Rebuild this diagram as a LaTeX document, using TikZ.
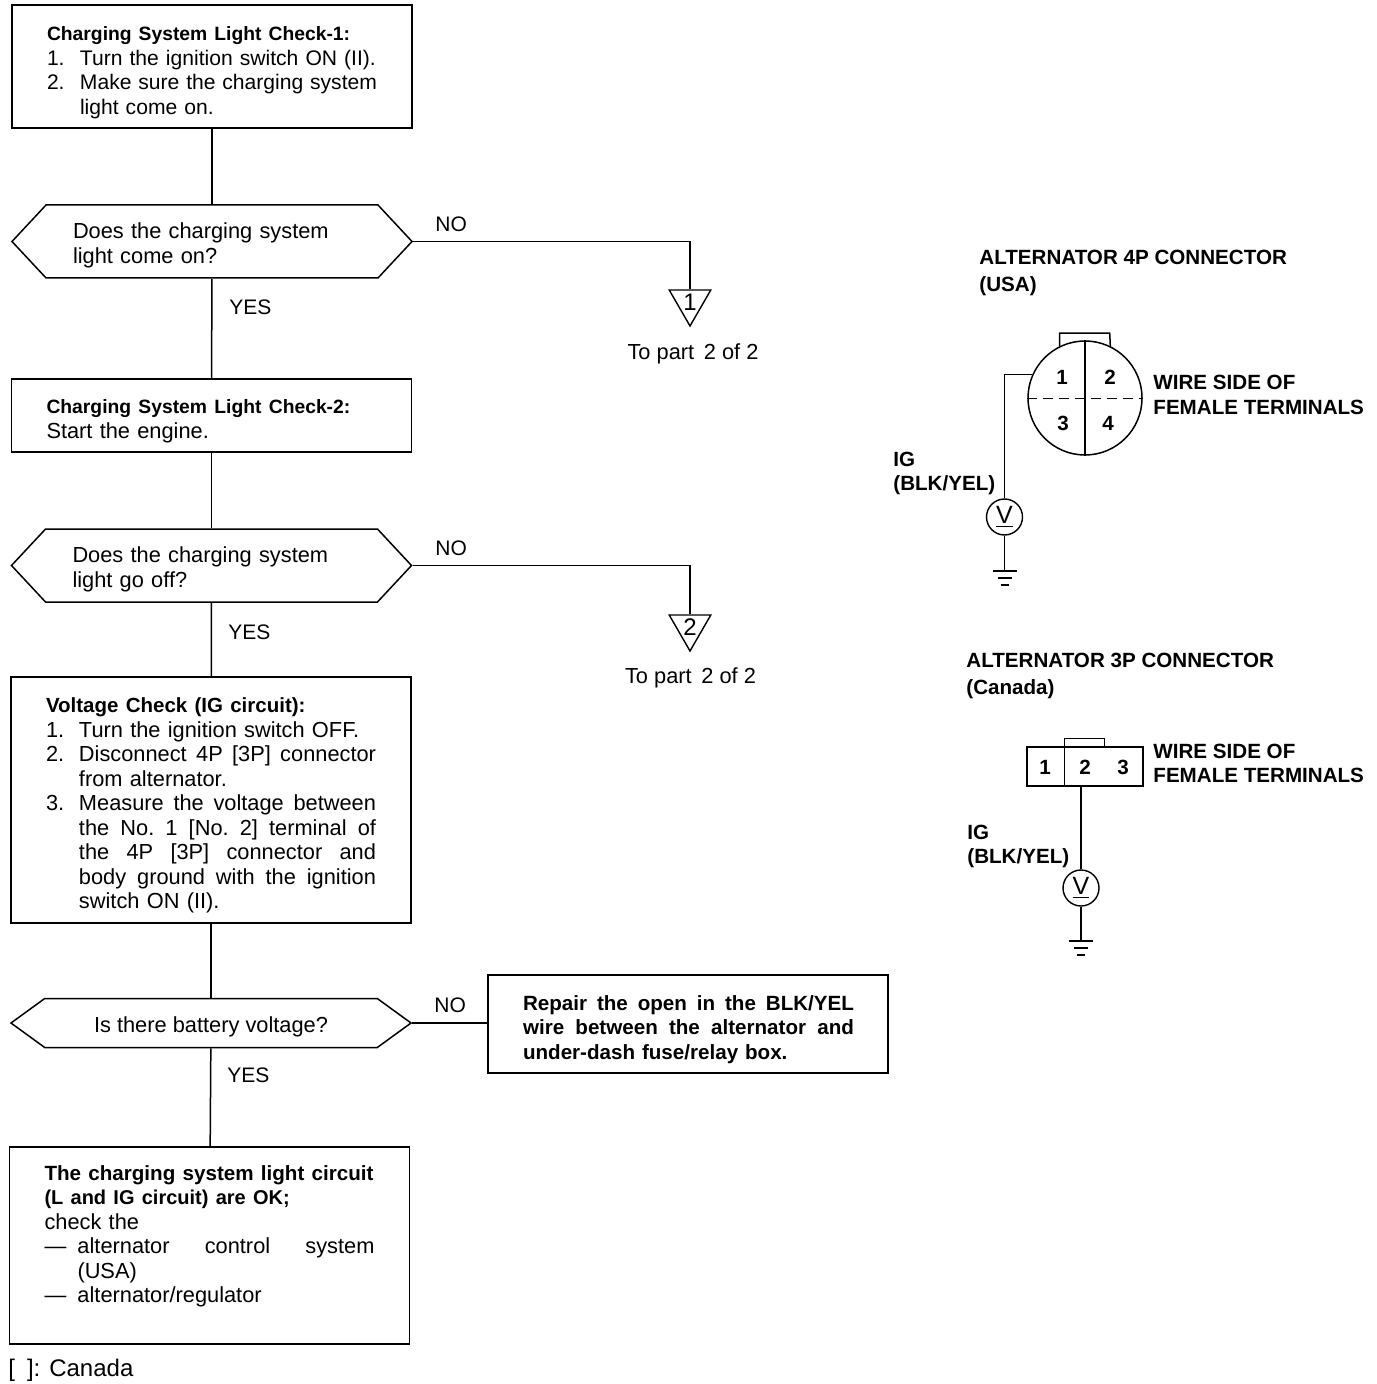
\documentclass[tikz,border=0pt]{standalone}
\usepackage{fontspec}
\setmainfont{Liberation Sans}
\usetikzlibrary{shapes.symbols,shapes.geometric}
\newcommand{\hdr}[2]{\mbox{\fontsize{#1}{12.25}\selectfont\bfseries #2}}
\newcommand{\jl}[2][148.5pt]{\makebox[#1][s]{\spaceskip=.26em plus 1fil\xspaceskip=\spaceskip\relax #2}}
\newcommand{\num}[2]{\makebox[16.5pt][l]{#1}#2}
\newcommand{\hang}[1]{\hspace*{16.5pt}#1}
\tikzset{
	textfont/.style={font=\fontsize{10.9}{12.25}\selectfont},
	boldfont/.style={font=\fontsize{10.3}{12.25}\selectfont\bfseries},
	stepbox/.style={draw, rectangle, line width=0.75pt, minimum width=200pt, inner xsep=17.5pt, inner ysep=0pt, text width=165pt, align=left, textfont, execute at begin node={\rule{0pt}{13pt}}},
	decision/.style={draw, signal, signal to=east and west, line width=0.75pt, minimum width=200pt, inner sep=0pt},
	question/.style={text width=139pt, inner sep=0pt, yshift=-2pt, textfont},
	answer/.style={anchor=west, inner sep=0pt, font=\fontsize{10.5}{12.25}\selectfont},
	marktri/.style={draw, regular polygon, regular polygon sides=3, shape border rotate=180, minimum size=24pt, inner sep=0pt, line width=0.7pt, font=\fontsize{12}{12.25}\selectfont},
	title/.style={anchor=west, align=left, inner sep=0pt, boldfont},
	voltmeter/.style={draw, circle, minimum size=18pt, inner sep=0pt, line width=0.7pt, font=\fontsize{12.5}{13}\selectfont},
	wire/.style={line width=0.75pt},
	gnd/.pic={
		\draw[wire] (-12,0) -- (12,0);
		\draw[wire] (-7,7) -- (7,7);
		\draw[wire] (-4,14) -- (4,14);
	},
}
\begin{document}
\begin{tikzpicture}[x=0.5pt, y=-0.5pt]
	\useasboundingbox (0,0) rectangle (1376,1384);

	\node[stepbox, minimum height=61.5pt, font=\fontsize{10.55}{12.25}\selectfont] (box1) at (212,66.5) {\hdr{9.65}{Charging System Light Check-1:}\\
		\num{1.}{Turn the ignition switch ON (II).}\\
		\num{2.}{\jl{Make sure the charging system}}\\
		\hang{light come on.}};
	\node[decision, minimum height=36.5pt, signal pointer angle=94] (dec1) at (212,241.5) {};
	\node[question] (q1) at (dec1) {Does the charging system\\light come on?};
	\node[stepbox, minimum height=36.5pt] (box2) at (211.5,415.5) {\hdr{9.65}{Charging System Light Check-2:}\\Start the engine.};
	\node[decision, minimum height=36.5pt, signal pointer angle=94] (dec2) at (211.5,565.5) {};
	\node[question] (q2) at (dec2) {Does the charging system\\light go off?};
	\node[stepbox, minimum height=123pt] (box3) at (211,800) {\hdr{10.25}{Voltage Check (IG circuit):}\\
		\num{1.}{Turn the ignition switch OFF.}\\
		\num{2.}{\jl{Disconnect 4P [3P] connector}}\\
		\hang{from alternator.}\\
		\num{3.}{\jl{Measure the voltage between}}\\
		\hang{\jl{the No. 1 [No. 2] terminal of}}\\
		\hang{\jl{the 4P [3P] connector and}}\\
		\hang{\jl{body ground with the ignition}}\\
		\hang{switch ON (II).}};
	\node[decision, minimum height=24.5pt, signal pointer angle=72] (dec3) at (211,1023) {};
	\node[inner sep=0pt, yshift=-2pt, textfont] (q3) at (dec3) {Is there battery voltage?};
	\node[stepbox, minimum height=49pt, font=\fontsize{10.3}{12.25}\selectfont\bfseries] (repair) at (688,1024) {\jl[165.5pt]{Repair the open in the BLK/YEL}\\\jl[165.5pt]{wire between the alternator and}\\under-dash fuse/relay box.};
	\node[stepbox, minimum height=98.5pt] (box4) at (209.5,1245.5) {\hdr{10.3}{The charging system light circuit}\\\hdr{10}{(L and IG circuit) are OK;}\\check the\\
		\num{—}{\jl{alternator control system}}\\
		\hang{(USA)}\\
		\num{—}{alternator/regulator}\\[5pt]\mbox{}};

	\node[marktri] (tri1) at (690,302) {\raisebox{-1pt}{1}};
	\node[marktri] (tri2) at (690,627) {\raisebox{-1pt}{2}};
	\node[textfont, inner sep=0pt] (part1) at (693,354) {To part\, 2 of 2};
	\node[textfont, inner sep=0pt] (part2) at (690.5,678) {To part\, 2 of 2};

	\draw[wire] (box1) -- (dec1);
	\draw[wire] (dec1) -- (box2);
	\draw[wire] (box2) -- (dec2);
	\draw[wire] (dec2) -- (box3);
	\draw[wire] (box3) -- (dec3);
	\draw[wire] (dec3) -- (box4);
	\draw[wire] (dec1.east) -| (tri1.north);
	\draw[wire] (dec2.east) -| (tri2.north);
	\draw[wire] (dec3.east) -- (repair.west |- dec3.east);

	\node[answer] (no1) at (435,224) {NO};
	\node[answer] (yes1) at (229,307) {YES};
	\node[answer] (no2) at (435,548) {NO};
	\node[answer] (yes2) at (228,632) {YES};
	\node[answer] (no3) at (434,1005) {NO};
	\node[answer] (yes3) at (227,1075) {YES};
	\node[anchor=west, inner sep=0pt, font=\fontsize{12}{13}\selectfont] (note) at (8,1370) {[\enspace]: Canada};

	\node[title] (title4p) at (979,273) {ALTERNATOR 4P CONNECTOR\\[1pt](USA)};
	\node[draw, circle, line width=0.75pt, minimum size=57pt, inner sep=0pt] (conn4p) at (1085,398) {};
	\draw[wire] (conn4p.116) -- ++(0,-13) -- ++(50,0) -- (conn4p.64);
	\draw[line width=0.6pt] (conn4p.north) -- (conn4p.south);
	\draw[line width=0.4pt, dash pattern=on 5pt off 3pt] (conn4p.west) -- (conn4p.east);
	\foreach \pin/\px/\py in {1/1062/377, 2/1110/377, 3/1063/423, 4/1108/423}
		\node[boldfont, inner sep=0pt] (pin4p\pin) at (\px,\py) {\pin};
	\node[title] (side4p) at (1153,395) {WIRE SIDE OF\\FEMALE TERMINALS};
	\node[title] (ig4p) at (893,473.5) {IG\\(BLK/YEL)};
	\node[voltmeter] (vm1) at (1004.5,517) {\underline{V}};
	\coordinate (gnd1) at (1004.5,571);
	\draw[wire] (conn4p.156) -| (vm1.north);
	\draw[wire] (vm1.south) -- (gnd1);
	\pic at (gnd1) {gnd};

	\node[title] (title3p) at (966,676) {ALTERNATOR 3P CONNECTOR\\[1pt](Canada)};
	\node[draw, rectangle, line width=0.75pt, minimum width=58pt, minimum height=19.5pt, inner sep=0pt] (conn3p) at (1085,766.5) {};
	\draw[wire] (conn3p.north west) ++(38,0) coordinate (tabl) -- (tabl |- conn3p.south);
	\draw[wire] (tabl) -- ++(0,-8) -- ++(40,0) -- ++(0,8);
	\foreach \pin/\px in {1/1045, 2/1085, 3/1123}
		\node[boldfont, inner sep=0pt] (pin3p\pin) at (\px,767) {\pin};
	\node[title] (side3p) at (1153,763.5) {WIRE SIDE OF\\FEMALE TERMINALS};
	\node[title] (ig3p) at (967,846.5) {IG\\(BLK/YEL)};
	\node[voltmeter] (vm2) at (1081,888) {\underline{V}};
	\coordinate (gnd2) at (1081,941);
	\draw[wire] (vm2.north) -- (vm2.north |- conn3p.south);
	\draw[wire] (vm2.south) -- (gnd2);
	\pic at (gnd2) {gnd};
\end{tikzpicture}
\end{document}
